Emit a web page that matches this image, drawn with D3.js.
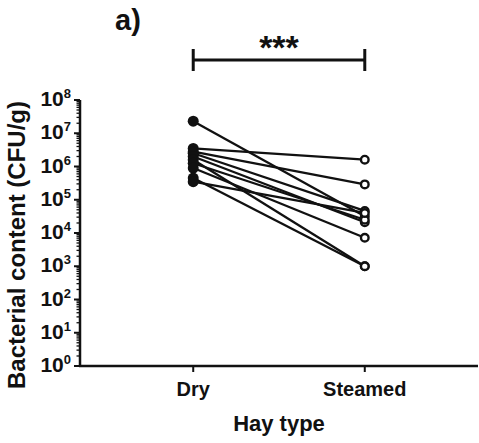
<!DOCTYPE html>
<html>
<head>
<meta charset="utf-8">
<script src="https://cdn.jsdelivr.net/npm/d3@7"></script>
<style>
  html, body { margin: 0; padding: 0; background: #fff; }
  svg { display: block; font-family: "Liberation Sans", Arial, sans-serif; font-weight: bold; }
</style>
</head>
<body>
<svg id="chart" width="479" height="443"></svg>
<script>
// ---- data ----
const categories = ["Dry", "Steamed"];
const dryValues = [2.3e7, 3.5e6, 2.8e6, 2.5e6, 2.0e6, 1.6e6, 1.25e6, 9.0e5, 4.5e5, 3.5e5];
const steamedValues = [3.2e4, 1.6e6, 2.9e5, 4.6e4, 2.1e4, 1.0e3, 2.5e4, 7.2e3, 1.0e3, 4.0e4];
const yTickExponents = [0, 1, 2, 3, 4, 5, 6, 7, 8];
const panelLabel = "a)";
const significance = "***";
const yTitle = "Bacterial content (CFU/g)";
const xTitle = "Hay type";

// ---- layout ----
const svg = d3.select("#chart");
const mLeft = 80, mRight = 478, mTop = 100, mBottom = 366;

const x = d3.scalePoint().domain(categories).range([mLeft, mRight]).padding(0.66);
const y = d3.scaleLog().domain([1, 1e8]).range([mBottom, mTop]);

// y axis
const yAxisG = svg.append("g").attr("transform", `translate(${mLeft},0)`);
const minorTicks = [];
for (let e = 0; e < 8; e++) for (let m = 2; m <= 9; m++) minorTicks.push(m * Math.pow(10, e));
yAxisG.selectAll("line.minor").data(minorTicks).join("line")
  .attr("x1", -3.5).attr("x2", 0)
  .attr("y1", d => y(d)).attr("y2", d => y(d))
  .attr("stroke", "#111").attr("stroke-width", 1.3);
yAxisG.selectAll("line.major").data(yTickExponents).join("line")
  .attr("x1", -6).attr("x2", 0)
  .attr("y1", d => y(Math.pow(10, d))).attr("y2", d => y(Math.pow(10, d)))
  .attr("stroke", "#111").attr("stroke-width", 2);
yAxisG.append("line").attr("x1", 0).attr("x2", 0).attr("y1", y(1) + 1).attr("y2", y(1e8))
  .attr("stroke", "#111").attr("stroke-width", 2.5);

const tl = yAxisG.selectAll("text.tick").data(yTickExponents).join("text")
  .attr("x", -9).attr("y", d => y(Math.pow(10, d)) + 6)
  .attr("text-anchor", "end").attr("fill", "#111").style("font-size", "21px");
tl.append("tspan").text("10");
tl.append("tspan").attr("dy", -8).style("font-size", "13px").text(d => d);

// x axis
const xAxisG = svg.append("g").attr("transform", `translate(0,${mBottom})`);
xAxisG.append("line").attr("x1", mLeft - 1).attr("x2", mRight).attr("y1", 0).attr("y2", 0)
  .attr("stroke", "#111").attr("stroke-width", 2.5);
xAxisG.selectAll("line.xt").data(categories).join("line")
  .attr("x1", d => x(d)).attr("x2", d => x(d)).attr("y1", 0).attr("y2", 6)
  .attr("stroke", "#111").attr("stroke-width", 2);
xAxisG.selectAll("text.xl").data(categories).join("text")
  .attr("x", d => x(d)).attr("y", 30).attr("text-anchor", "middle")
  .attr("fill", "#111").style("font-size", "20px").text(d => d);

// titles
svg.append("text").attr("x", 279).attr("y", 431).attr("text-anchor", "middle")
  .attr("fill", "#111").style("font-size", "22px").text(xTitle);
svg.append("text").attr("transform", `translate(25,245) rotate(-90)`)
  .attr("text-anchor", "middle").attr("fill", "#111").style("font-size", "24px").text(yTitle);
svg.append("text").attr("x", 115).attr("y", 30).attr("fill", "#111").style("font-size", "29px").text(panelLabel);

// significance bracket
const bY = 60;
const br = svg.append("g").attr("stroke", "#111").attr("stroke-width", 3);
br.append("line").attr("x1", x("Dry")).attr("x2", x("Steamed")).attr("y1", bY).attr("y2", bY);
br.append("line").attr("x1", x("Dry")).attr("x2", x("Dry")).attr("y1", bY - 11).attr("y2", bY + 11);
br.append("line").attr("x1", x("Steamed")).attr("x2", x("Steamed")).attr("y1", bY - 11).attr("y2", bY + 11);
svg.append("text").attr("x", (x("Dry") + x("Steamed")) / 2).attr("y", 59).attr("text-anchor", "middle")
  .attr("fill", "#111").style("font-size", "34px").text(significance);

// paired lines
const pairs = dryValues.map((d, i) => [d, steamedValues[i]]);
svg.append("g").selectAll("line").data(pairs).join("line")
  .attr("x1", x("Dry")).attr("x2", x("Steamed"))
  .attr("y1", d => y(d[0])).attr("y2", d => y(d[1]))
  .attr("stroke", "#111").attr("stroke-width", 2.3);

// points
svg.append("g").selectAll("circle").data(dryValues).join("circle")
  .attr("cx", x("Dry")).attr("cy", d => y(d)).attr("r", 5.5).attr("fill", "#111");
svg.append("g").selectAll("circle").data(steamedValues).join("circle")
  .attr("cx", x("Steamed")).attr("cy", d => y(d)).attr("r", 3.8)
  .attr("fill", "#fff").attr("stroke", "#111").attr("stroke-width", 2.4);
</script>
</body>
</html>
